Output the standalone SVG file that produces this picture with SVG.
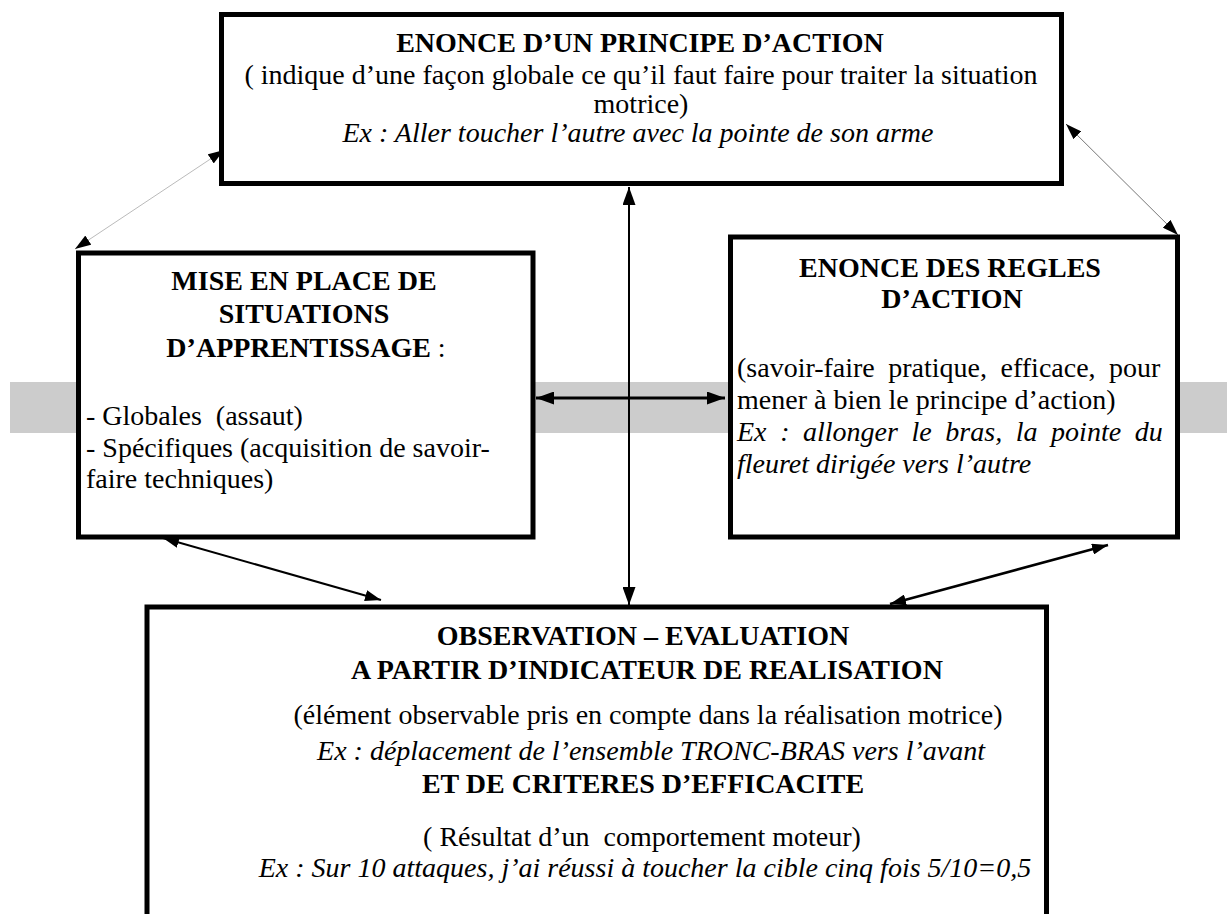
<svg xmlns="http://www.w3.org/2000/svg" width="1227" height="914" viewBox="0 0 1227 914">
<style>
  .box { fill: #ffffff; stroke: #000000; stroke-width: 5; }
  text { font-family: "Liberation Serif", "Times New Roman", serif; font-size: 28px; fill: #000000; }
  .b { font-weight: bold; }
  .i { font-style: italic; }
  .c { text-anchor: middle; }
  .con { fill: none; stroke: #000000; }
</style>
<defs>
  <marker id="ah" markerUnits="userSpaceOnUse" markerWidth="18" markerHeight="13" refX="18" refY="6.5" orient="auto-start-reverse">
    <path d="M0,0 L18,6.5 L0,13 z" fill="#000000"/>
  </marker>
  <marker id="ahs" markerUnits="userSpaceOnUse" markerWidth="16" markerHeight="11" refX="16" refY="5.5" orient="auto-start-reverse">
    <path d="M0,0 L16,5.5 L0,11 z" fill="#000000"/>
  </marker>
</defs>
<rect x="10" y="382" width="1217" height="51" fill="#cccccc"/>
<g id="connectors">
  <line class="con" x1="224" y1="150" x2="75" y2="249" stroke="#bbbbbb" stroke-width="1" marker-start="url(#ahs)" marker-end="url(#ahs)" style="stroke:#bbbbbb"/>
  <line class="con" x1="1066" y1="124" x2="1178" y2="235" stroke-width="1" marker-start="url(#ahs)" marker-end="url(#ahs)" style="stroke:#777777"/>
  <line class="con" x1="629" y1="187" x2="629" y2="605" stroke-width="2" marker-start="url(#ah)" marker-end="url(#ah)"/>
  <line class="con" x1="536" y1="398" x2="725" y2="398" stroke-width="3" marker-start="url(#ah)" marker-end="url(#ah)"/>
  <line class="con" x1="163" y1="538" x2="381" y2="600" stroke-width="2" marker-start="url(#ahs)" marker-end="url(#ahs)"/>
  <line class="con" x1="1108" y1="545" x2="890" y2="604" stroke-width="2.5" marker-start="url(#ahs)" marker-end="url(#ahs)"/>
</g>
<g id="principe">
  <rect class="box" x="221.5" y="14.5" width="840" height="169"/>
  <text class="b c" x="640" y="52">ENONCE D’UN PRINCIPE D’ACTION</text>
  <text class="c" x="641" y="84">( indique d’une façon globale ce qu’il faut faire pour traiter la situation</text>
  <text class="c" x="641" y="113">motrice)</text>
  <text class="i c" x="638" y="142">Ex : Aller toucher l’autre avec la pointe de son arme</text>
</g>
<g id="situations">
  <rect class="box" x="78.5" y="253" width="454.5" height="284"/>
  <text class="b c" x="304" y="290">MISE EN PLACE DE</text>
  <text class="b c" x="304" y="323">SITUATIONS</text>
  <text class="c" x="306" y="357"><tspan class="b">D’APPRENTISSAGE</tspan> :</text>
  <text x="86" y="425" xml:space="preserve">- Globales  (assaut)</text>
  <text x="86" y="457">- Spécifiques (acquisition de savoir-</text>
  <text x="86" y="488">faire techniques)</text>
</g>
<g id="regles">
  <rect class="box" x="730.5" y="237" width="447" height="300"/>
  <text class="b c" x="950" y="277">ENONCE DES REGLES</text>
  <text class="b c" x="952" y="308">D’ACTION</text>
  <text x="737" y="377" word-spacing="6.5">(savoir-faire pratique, efficace, pour</text>
  <text x="737" y="409">mener à bien le principe d’action)</text>
  <text class="i" x="737" y="441" word-spacing="6.6">Ex : allonger le bras, la pointe du</text>
  <text class="i" x="737" y="473">fleuret dirigée vers l’autre</text>
</g>
<g id="observation">
  <rect class="box" x="147" y="607" width="899.5" height="330"/>
  <text class="b c" x="643" y="645">OBSERVATION – EVALUATION</text>
  <text class="b c" x="647" y="679">A PARTIR D’INDICATEUR DE REALISATION</text>
  <text class="c" x="648" y="724">(élément observable pris en compte dans la réalisation motrice)</text>
  <text class="i c" x="651" y="760">Ex : déplacement de l’ensemble TRONC-BRAS vers l’avant</text>
  <text class="b c" x="643" y="793">ET DE CRITERES D’EFFICACITE</text>
  <text class="c" x="642" y="846" xml:space="preserve">( Résultat d’un  comportement moteur)</text>
  <text class="i c" x="645" y="877">Ex : Sur 10 attaques, j’ai réussi à toucher la cible cinq fois 5/10=0,5</text>
</g>
</svg>
